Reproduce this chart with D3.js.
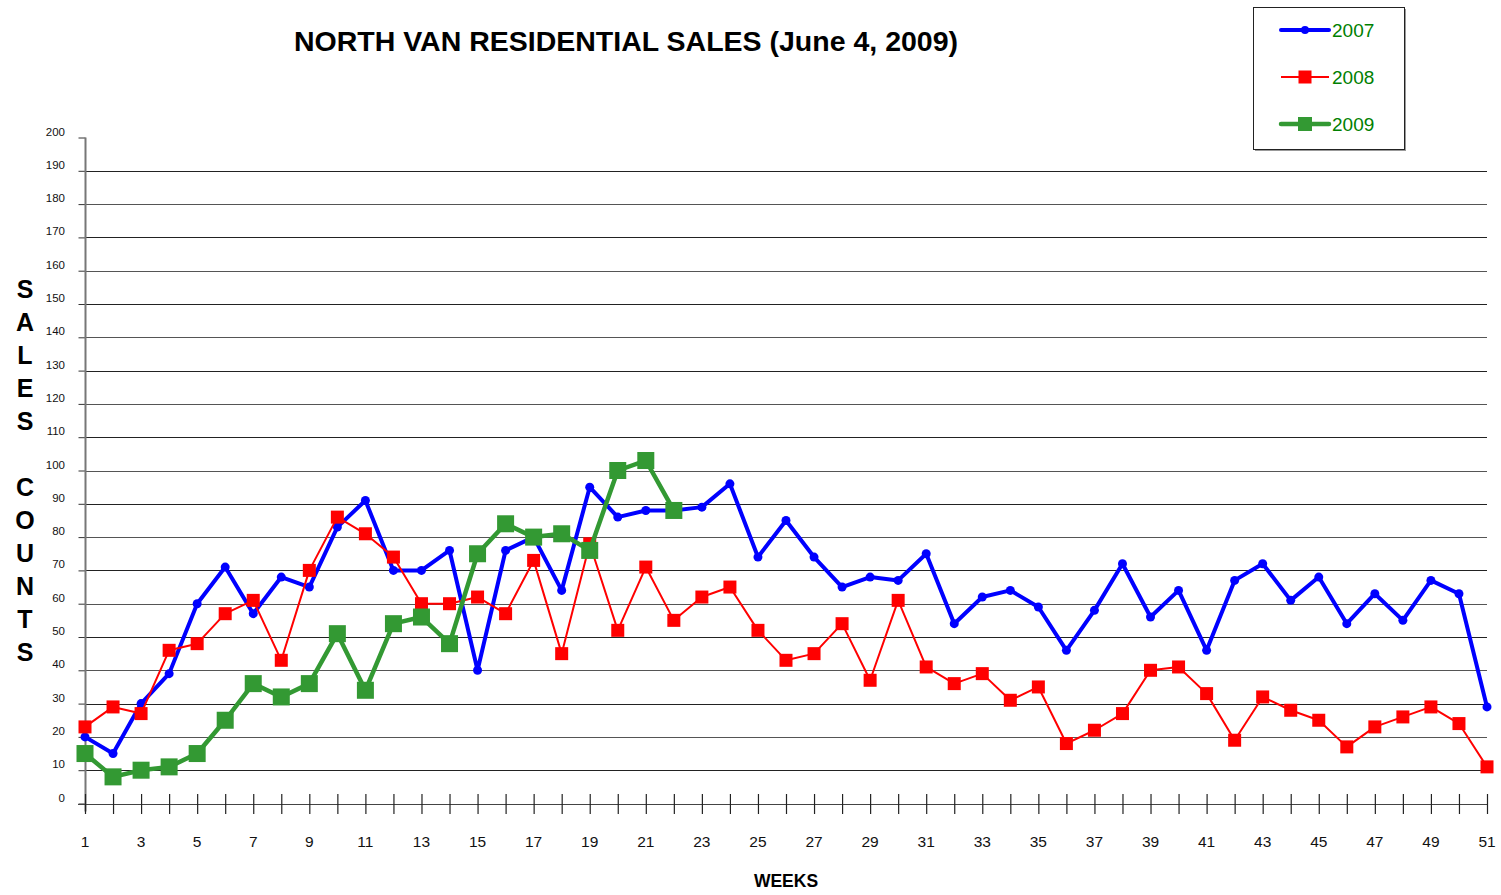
<!DOCTYPE html>
<html>
<head>
<meta charset="utf-8">
<script src="https://cdn.jsdelivr.net/npm/d3@7"></script>
<style>
  body { margin: 0; background: #fff; }
  svg { display: block; font-family: "Liberation Sans", Arial, sans-serif; }
</style>
</head>
<body>
<svg id="chart" width="1501" height="895"></svg>
<script>
// weekly sales counts, weeks 1..51
const weeks = d3.range(1, 52);
const sales2007 = [20, 15, 30, 39, 60, 71, 57, 68, 65, 83, 91, 70, 70, 76, 40, 76, 80, 64, 95, 86,
  88, 88, 89, 96, 74, 85, 74, 65, 68, 67, 75, 54, 62, 64, 59, 46, 58, 72, 56, 64,
  46, 67, 72, 61, 68, 54, 63, 55, 67, 63, 29];
const sales2008 = [23, 29, 27, 46, 48, 57, 61, 43, 70, 86, 81, 74, 60, 60, 62, 57, 73, 45, 78, 52,
  71, 55, 62, 65, 52, 43, 45, 54, 37, 61, 41, 36, 39, 31, 35, 18, 22, 27, 40, 41,
  33, 19, 32, 28, 25, 17, 23, 26, 29, 24, 11];
const sales2009 = [15, 8, 10, 11, 15, 25, 36, 32, 36, 51, 34, 54, 56, 48, 75, 84, 80, 81, 76, 100,
  103, 88];
const yTicks = d3.range(0, 201, 10);
const xTickLabels = weeks.filter(w => w % 2 === 1);
const seriesNames = ["2007", "2008", "2009"];

const svg = d3.select("#chart");

const x = d3.scaleLinear().domain([1, 51]).range([85, 1487]);
const y = d3.scaleLinear().domain([0, 200]).range([803.5, 137.5]);

// horizontal grid
svg.append("g")
  .selectAll("line")
  .data(yTicks.filter(v => v > 0 && v < 200))
  .enter()
  .append("line")
  .attr("x1", x(1))
  .attr("x2", x(51))
  .attr("y1", d => Math.round(y(d)) + 0.5)
  .attr("y2", d => Math.round(y(d)) + 0.5)
  .attr("stroke", (d, i) => i % 2 ? "#555" : "#222")
  .attr("stroke-width", 1);

// y axis
const yAxis = d3.axisLeft(y).tickValues(yTicks).tickSize(7).tickFormat("");
const gy = svg.append("g").attr("transform", "translate(85.5,0)").call(yAxis);
gy.select(".domain").remove();
gy.selectAll(".tick line").attr("stroke", "#333");
svg.append("line")
  .attr("x1", 85.5).attr("x2", 85.5)
  .attr("y1", y(200)).attr("y2", y(0) + 8)
  .attr("stroke", "#777").attr("stroke-width", 2);

svg.append("g")
  .selectAll("text")
  .data(yTicks)
  .enter()
  .append("text")
  .attr("x", 65)
  .attr("y", d => y(d) - 2)
  .attr("text-anchor", "end")
  .attr("font-size", "11.5px")
  .attr("fill", "#111")
  .text(d => d);

// x axis line + ticks
svg.append("line")
  .attr("x1", x(1) - 7).attr("x2", x(51))
  .attr("y1", Math.round(y(0)) + 0.5).attr("y2", Math.round(y(0)) + 0.5)
  .attr("stroke", "#444").attr("stroke-width", 1.2);

const xAxis = d3.axisBottom(x).tickValues(weeks).tickSize(20).tickFormat("");
const gx = svg.append("g").attr("transform", "translate(0,794)").call(xAxis);
gx.select(".domain").remove();
gx.selectAll(".tick line").attr("stroke", "#222").attr("stroke-width", 1.2);

svg.append("g")
  .selectAll("text")
  .data(xTickLabels)
  .enter()
  .append("text")
  .attr("x", d => x(d))
  .attr("y", 847)
  .attr("text-anchor", "middle")
  .attr("font-size", "15.5px")
  .attr("fill", "#111")
  .text(d => d);

// titles
svg.append("text")
  .attr("x", 626).attr("y", 51)
  .attr("text-anchor", "middle")
  .attr("font-size", "28.5px")
  .attr("font-weight", "bold")
  .text("NORTH VAN RESIDENTIAL SALES (June 4, 2009)");

svg.append("text")
  .attr("x", 786).attr("y", 887)
  .attr("text-anchor", "middle")
  .attr("font-size", "17.5px")
  .attr("font-weight", "bold")
  .text("WEEKS");

const yLabel = "SALES COUNTS".split("");
svg.append("g")
  .selectAll("text")
  .data(yLabel)
  .enter()
  .append("text")
  .attr("x", 25)
  .attr("y", (d, i) => 298 + 33 * i)
  .attr("text-anchor", "middle")
  .attr("font-size", "25px")
  .attr("font-weight", "bold")
  .text(d => d);

// series
const line = d3.line().x((d, i) => x(weeks[i])).y(d => y(d));

function drawSeries(data, color, width, marker, size) {
  const g = svg.append("g");
  g.append("path")
    .datum(data)
    .attr("d", line)
    .attr("fill", "none")
    .attr("stroke", color)
    .attr("stroke-width", width)
    .attr("stroke-linejoin", "round");
  if (marker === "circle") {
    g.selectAll("circle")
      .data(data)
      .enter()
      .append("circle")
      .attr("cx", (d, i) => x(weeks[i]))
      .attr("cy", d => y(d))
      .attr("r", size)
      .attr("fill", color);
  } else {
    g.selectAll("rect")
      .data(data)
      .enter()
      .append("rect")
      .attr("x", (d, i) => x(weeks[i]) - size / 2)
      .attr("y", d => y(d) - size / 2)
      .attr("width", size)
      .attr("height", size)
      .attr("fill", color);
  }
}

drawSeries(sales2007, "#0000ff", 4, "circle", 4.5);
drawSeries(sales2008, "#ff0000", 2, "rect", 13);
drawSeries(sales2009, "#339933", 4.5, "rect", 17);

// legend
const legend = svg.append("g");
legend.append("rect")
  .attr("x", 1255).attr("y", 9).attr("width", 151).attr("height", 142)
  .attr("fill", "#999");
legend.append("rect")
  .attr("x", 1253.5).attr("y", 7.5).attr("width", 151).attr("height", 142)
  .attr("fill", "#fff").attr("stroke", "#222").attr("stroke-width", 1);

const legendStyles = [
  {color: "#0000ff", width: 4, marker: "circle", size: 4},
  {color: "#ff0000", width: 2, marker: "rect", size: 13},
  {color: "#339933", width: 4.5, marker: "rect", size: 14}
];
seriesNames.forEach((name, i) => {
  const cy = 30 + 47 * i;
  const s = legendStyles[i];
  legend.append("line")
    .attr("x1", 1281).attr("x2", 1329)
    .attr("y1", cy).attr("y2", cy)
    .attr("stroke", s.color).attr("stroke-width", s.width)
    .attr("stroke-linecap", i === 1 ? "butt" : "round");
  if (s.marker === "circle") {
    legend.append("circle").attr("cx", 1305).attr("cy", cy).attr("r", s.size).attr("fill", s.color);
  } else {
    legend.append("rect")
      .attr("x", 1305 - s.size / 2).attr("y", cy - s.size / 2)
      .attr("width", s.size).attr("height", s.size)
      .attr("fill", s.color);
  }
  legend.append("text")
    .attr("x", 1332).attr("y", cy + 7)
    .attr("font-size", "19px")
    .attr("fill", "#008000")
    .text(name);
});
</script>
</body>
</html>
